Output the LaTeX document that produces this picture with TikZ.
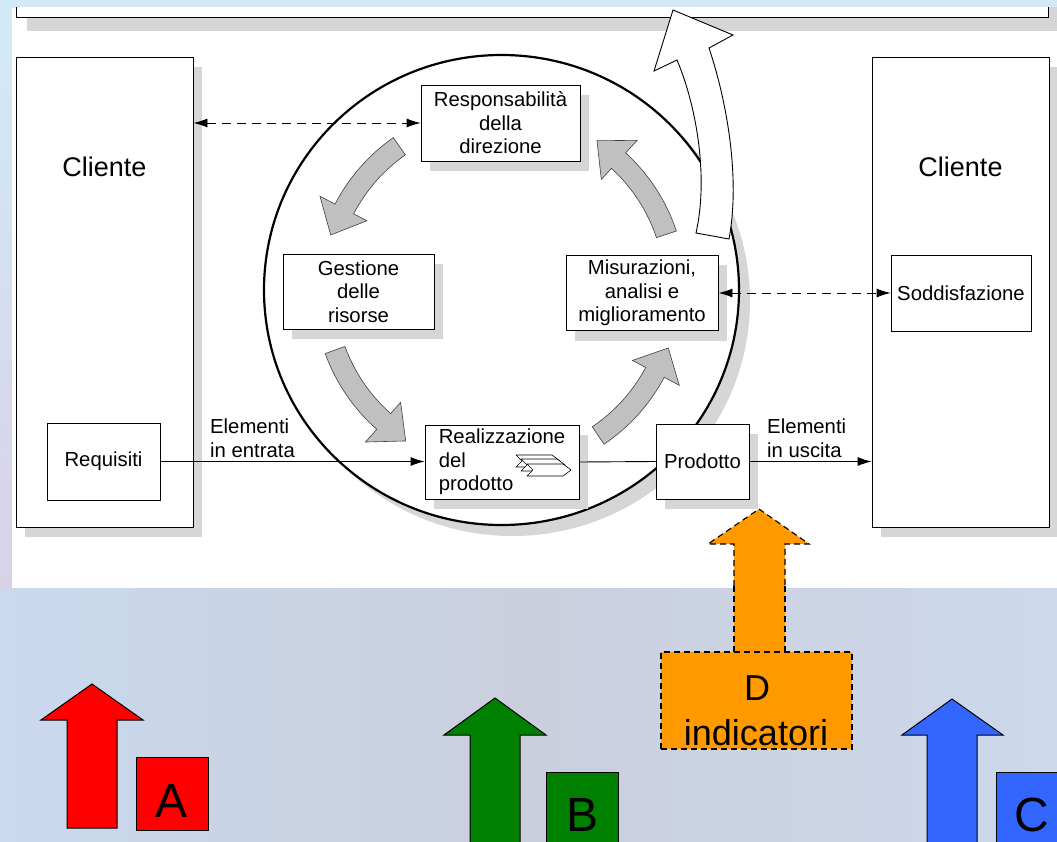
\documentclass[tikz,border=0pt]{standalone}
\usepackage{fontspec}
\setmainfont{Liberation Sans}
\usetikzlibrary{arrows.meta,shadows}
\definecolor{shadowgray}{HTML}{D6D6D6}
\definecolor{arrowgray}{HTML}{C0C0C0}
\definecolor{topblue}{HTML}{D2EAF6}
\definecolor{leftblue}{HTML}{C9DDF2}
\definecolor{leftpink}{HTML}{D8D2E6}
\definecolor{bgA}{HTML}{C9D9EE}
\definecolor{bgB}{HTML}{CACFDD}
\definecolor{bgC}{HTML}{CDD8EC}
\definecolor{orangeD}{HTML}{FF9900}
\definecolor{greenB}{HTML}{008000}
\definecolor{blueC}{HTML}{3366FF}
\definecolor{redA}{HTML}{FF0000}
\newcommand\grarrow[3]{%
  \filldraw[garrow] (#1:165) arc[start angle=#1, end angle=#2, radius=165] -- (#2:150) -- (#3:178) -- (#2:203) -- (#2:186) arc[start angle=#2, end angle=#1, radius=186] -- cycle;}
\newcommand\procshape[2]{%
  \filldraw[fill=white, draw=black, line width=0.6pt, line join=round] (#1,#2) -- ++(36,0) -- ++(8,6) -- ++(-8,6) -- ++(-36,0) -- ++(6,-6) -- cycle;}
\begin{document}
\begin{tikzpicture}[x=1pt, y=-1pt,
  box/.style={draw=black, fill=white, line width=0.9pt, inner sep=0pt, align=center, font=\fontsize{20.3}{23.5}\selectfont},
  shad/.style={general shadow={fill=shadowgray, shadow xshift=9pt, shadow yshift=-10pt}},
  topshad/.style={general shadow={fill=shadowgray, shadow xshift=11pt, shadow yshift=-13pt}},
  ctext/.style={inner sep=0pt, font=\fontsize{27}{30}\selectfont},
  lbl/.style={inner sep=0pt, align=left, font=\fontsize{20.3}{23.5}\selectfont},
  garrow/.style={fill=arrowgray, draw=black!75, line width=0.6pt, line join=miter},
  conn/.style={line width=0.9pt},
  tipA/.style={-{Latex[length=14pt,width=9pt]}},
  tipB/.style={{Latex[length=14pt,width=9pt]}-{Latex[length=14pt,width=9pt]}},
  dashline/.style={dash pattern=on 9pt off 6pt},
  bigarrow/.style={draw=black, line width=1pt, line join=miter},
  lettbox/.style={draw=black, line width=1pt, inner sep=0pt},
  bigtext/.style={inner sep=0pt, font=\fontsize{48}{50}\selectfont},
  dtext/.style={inner sep=0pt, font=\fontsize{36}{40}\selectfont},
  orangedash/.style={dash pattern=on 6pt off 4pt, line width=1.1pt}
]
\useasboundingbox (0,0) rectangle (1057,842);
\clip (0,0) rectangle (1057,842);
% backgrounds
\shade[left color=bgA, right color=bgC, middle color=bgB] (0,588) rectangle (1057,842);
\fill[topblue] (0,0) rectangle (1057,8);
\shade[top color=topblue, bottom color=leftpink] (0,8) rectangle (12,588);
\fill[white] (12,8) rectangle (1057,588);

\begin{scope}
\clip (12,8) rectangle (1057,588);
% top bar
\node[box, topshad, minimum width=1032pt, minimum height=40pt, anchor=south west] (topbar) at (16,18) {};
% clients
\node[box, shad, minimum width=177pt, minimum height=470pt] (cl) at (104.5,292) {};
\node[box, shad, minimum width=177pt, minimum height=470pt] (cr) at (960.5,292) {};
\node[ctext] (clt) at (104.5,167) {Cliente};
\node[ctext] (crt) at (960.5,167) {Cliente};

% circle
\fill[shadowgray] (512.5,301) ellipse[x radius=237.5, y radius=235];
\draw[line width=2.2pt, fill=white] (501.5,290) ellipse[x radius=237.5, y radius=235];

% inner boxes
\node[box, shad, minimum width=159pt, minimum height=76pt] (resp) at (500.5,123) {Responsabilità\\della\\direzione};
\node[box, shad, minimum width=151pt, minimum height=75pt] (gest) at (358.5,291.5) {Gestione\\delle\\risorse};
\node[box, shad, minimum width=152pt, minimum height=75pt] (mis) at (642,293) {Misurazioni,\\analisi e\\miglioramento};
\node[box, shad, minimum width=154pt, minimum height=74pt, align=left] (real) at (502,462) {Realizzazione\\del\\prodotto};
\node[box, shad, minimum width=93pt, minimum height=75pt] (prod) at (702.5,461.5) {Prodotto};
\node[box, minimum width=113pt, minimum height=77pt] (req) at (103.5,461.5) {Requisiti};
\node[box, minimum width=140pt, minimum height=76pt] (sod) at (961,293.5) {Soddisfazione};

% process icon
\procshape{516}{455}
\procshape{521}{459}
\procshape{527}{464}

% grey cycle arrows
\begin{scope}[shift={(500,290)}, yscale=-1]
\grarrow{125}{152.5}{162}
\grarrow{200}{228.5}{238}
\grarrow{304}{332}{341}
\grarrow{18.5}{47.5}{57}
\end{scope}

% white outgoing arrow
\filldraw[fill=white, draw=black, line width=0.9pt, line join=miter]
  (696,233) .. controls (708,180) and (698,110) .. (677,60) -- (654,71) -- (673,10) -- (733,35) -- (709,48)
  .. controls (728,105) and (740,180) .. (729,239) -- cycle;

% connectors
\draw[conn, dashline, tipB] (resp.west -| cl.east) -- (resp.west);
\draw[conn, dashline, tipB] (mis.east) -- (mis.east -| sod.west);
\draw[conn, tipA] (req.east) -- (req.east -| real.west);
\draw[conn] (real.east) -- (prod.west);
\draw[conn, tipA] (prod.east) -- (prod.east -| cr.west);
\node[lbl, anchor=north west] (lin) at (210,419) {Elementi\\in entrata};
\node[lbl, anchor=north west] (lout) at (767,419) {Elementi\\in uscita};

% orange arrow (upper part)
\filldraw[fill=orangeD, draw=black, orangedash] (759,509) -- (809,544) -- (785,544) -- (785,652) -- (734,652) -- (734,544) -- (708,544) -- cycle;
\end{scope}

% orange arrow continuing below panel
\fill[orangeD] (734,586) rectangle (785,652);
\draw[orangedash] (734,586) -- (734,652) (785,586) -- (785,652);
\node[draw=black, fill=orangeD, orangedash, minimum width=191pt, minimum height=97pt, inner sep=0pt] (dbox) at (756.5,700.5) {};
\node[dtext, anchor=base] (dl) at (757,700) {D};
\node[dtext, anchor=base] (dind) at (756,745) {indicatori};

% bottom arrows
\filldraw[fill=redA, bigarrow] (92,684) -- (143,720) -- (117,720) -- (117,828) -- (67,828) -- (67,720) -- (41,720) -- cycle;
\node[lettbox, fill=redA, minimum width=72pt, minimum height=73pt] (ba) at (172,793.5) {};
\node[bigtext, anchor=base] (ta) at (172,817) {A};

\filldraw[fill=greenB, bigarrow] (495,698) -- (546,735) -- (520,735) -- (520,860) -- (470,860) -- (470,735) -- (444,735) -- cycle;
\node[lettbox, fill=greenB, minimum width=72pt, minimum height=90pt, anchor=north west] (bb) at (546,772) {};
\node[bigtext, anchor=base] (tb) at (582,831) {B};

\filldraw[fill=blueC, bigarrow] (952,699) -- (1003,735) -- (977,735) -- (977,860) -- (927,860) -- (927,735) -- (902,735) -- cycle;
\node[lettbox, fill=blueC, minimum width=72pt, minimum height=90pt, anchor=north west] (bc) at (996,772) {};
\node[bigtext, anchor=base] (tc) at (1032,831) {C};
\end{tikzpicture}
\end{document}
